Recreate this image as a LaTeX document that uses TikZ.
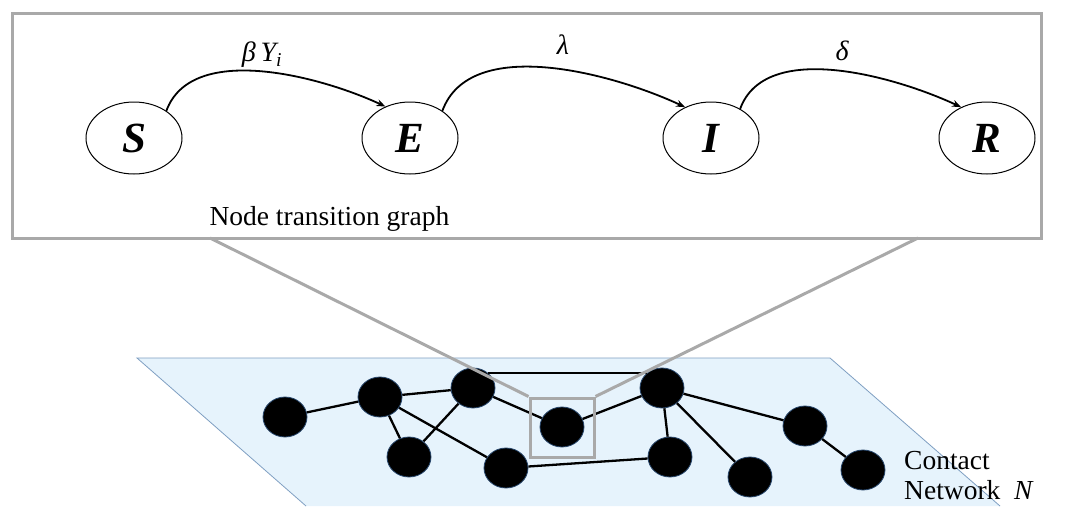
\documentclass[tikz,border=0pt]{standalone}
\usepackage{fontspec}
\setmainfont{Liberation Serif}
\usetikzlibrary{shapes.geometric,arrows.meta}
\definecolor{boxgray}{HTML}{A9A9A9}
\definecolor{planefill}{HTML}{E6F3FC}
\definecolor{planeedge}{HTML}{7F9FC2}
\definecolor{dotedge}{HTML}{27466B}
\tikzset{
 state/.style={ellipse, draw, line width=1pt, minimum width=96pt, minimum height=72pt, inner sep=0pt, font=\fontsize{43}{46}\selectfont\bfseries\itshape},
 trans/.style={line width=1.8pt, -{Stealth[length=9pt,width=7pt]}},
 rate/.style={font=\fontsize{28}{30}\selectfont\itshape},
 dot/.style={ellipse, fill=black, draw=dotedge, line width=0.8pt, minimum width=44pt, minimum height=40pt, inner sep=0pt},
 link/.style={line width=2.3pt},
 zoomline/.style={draw=boxgray, line width=3pt},
 caption/.style={font=\fontsize{27.5}{30}\selectfont},
}
\begin{document}
\begin{tikzpicture}[x=1pt,y=-1pt]
\useasboundingbox (0,0) rectangle (1068,506);
% plane
\fill[planefill] (137,358) -- (830,358) -- (1000,506) -- (306,506) -- cycle;
\draw[planeedge, line width=0.8pt] (306,506) -- (137,358) -- (830,358) -- (1000,506);
% network nodes
\node[dot] (n1) at (285,417) {};
\node[dot] (n2) at (380,397) {};
\node[dot] (n3) at (473,388) {};
\node[dot] (n4) at (409,457) {};
\node[dot] (n5) at (506,468) {};
\node[dot] (n6) at (562,427) {};
\node[dot] (n7) at (662,388) {};
\node[dot] (n8) at (670,457) {};
\node[dot] (n9) at (750,477) {};
\node[dot] (n10) at (805,426) {};
\node[dot] (n11) at (863,470) {};
% links
\draw[link] (n1) -- (n2);
\draw[link] (n2) -- (n3);
\draw[link] (n2) -- (n4);
\draw[link] (n4) -- (n3);
\draw[link] (n2) -- (n5);
\draw[link] (n3) -- (n6);
\draw[link] (n3.45) -- (n7.135);
\draw[link] (n6) -- (n7);
\draw[link] (n5) -- (n8);
\draw[link] (n7) -- (n8);
\draw[link] (n7) -- (n9);
\draw[link] (n7) -- (n10);
\draw[link] (n10) -- (n11);
% top box
\node[draw=boxgray, line width=3pt, minimum width=1029pt, minimum height=225pt, inner sep=0pt] (box) at (526.5,125.5) {};
% zoom square and lines
\node[draw=boxgray, line width=3pt, minimum width=64pt, minimum height=59pt, inner sep=0pt] (sq) at (562,427.5) {};
\coordinate (ml) at (210,238);
\coordinate (mr) at (918,238);
\draw[zoomline] (ml) -- (sq.north west);
\draw[zoomline] (mr) -- (sq.north east);
% states
\node[state] (S) at (134,138) {S};
\node[state] (E) at (410,138) {E};
\node[state] (I) at (711,138) {I};
\node[state] (R) at (987,138) {R};
\draw[trans] (S.40) to[out=70,in=155,looseness=0.85] (E.128);
\draw[trans] (E.40) to[out=70,in=155,looseness=0.85] (I.130);
\draw[trans] (I.45) to[out=70,in=155,looseness=0.85] (R.130);
\node[rate] (l1) at (262,55) {β\,Y\textsubscript{i}};
\node[rate] (l2) at (563,45) {λ};
\node[rate] (l3) at (842,51) {δ};
\node[caption, anchor=west] (cap) at (206,219) {Node transition graph};
\node[caption, anchor=north west, align=left, inner sep=0pt] (net) at (904,451) {Contact\\Network~~\textit{N}};
\end{tikzpicture}
\end{document}
